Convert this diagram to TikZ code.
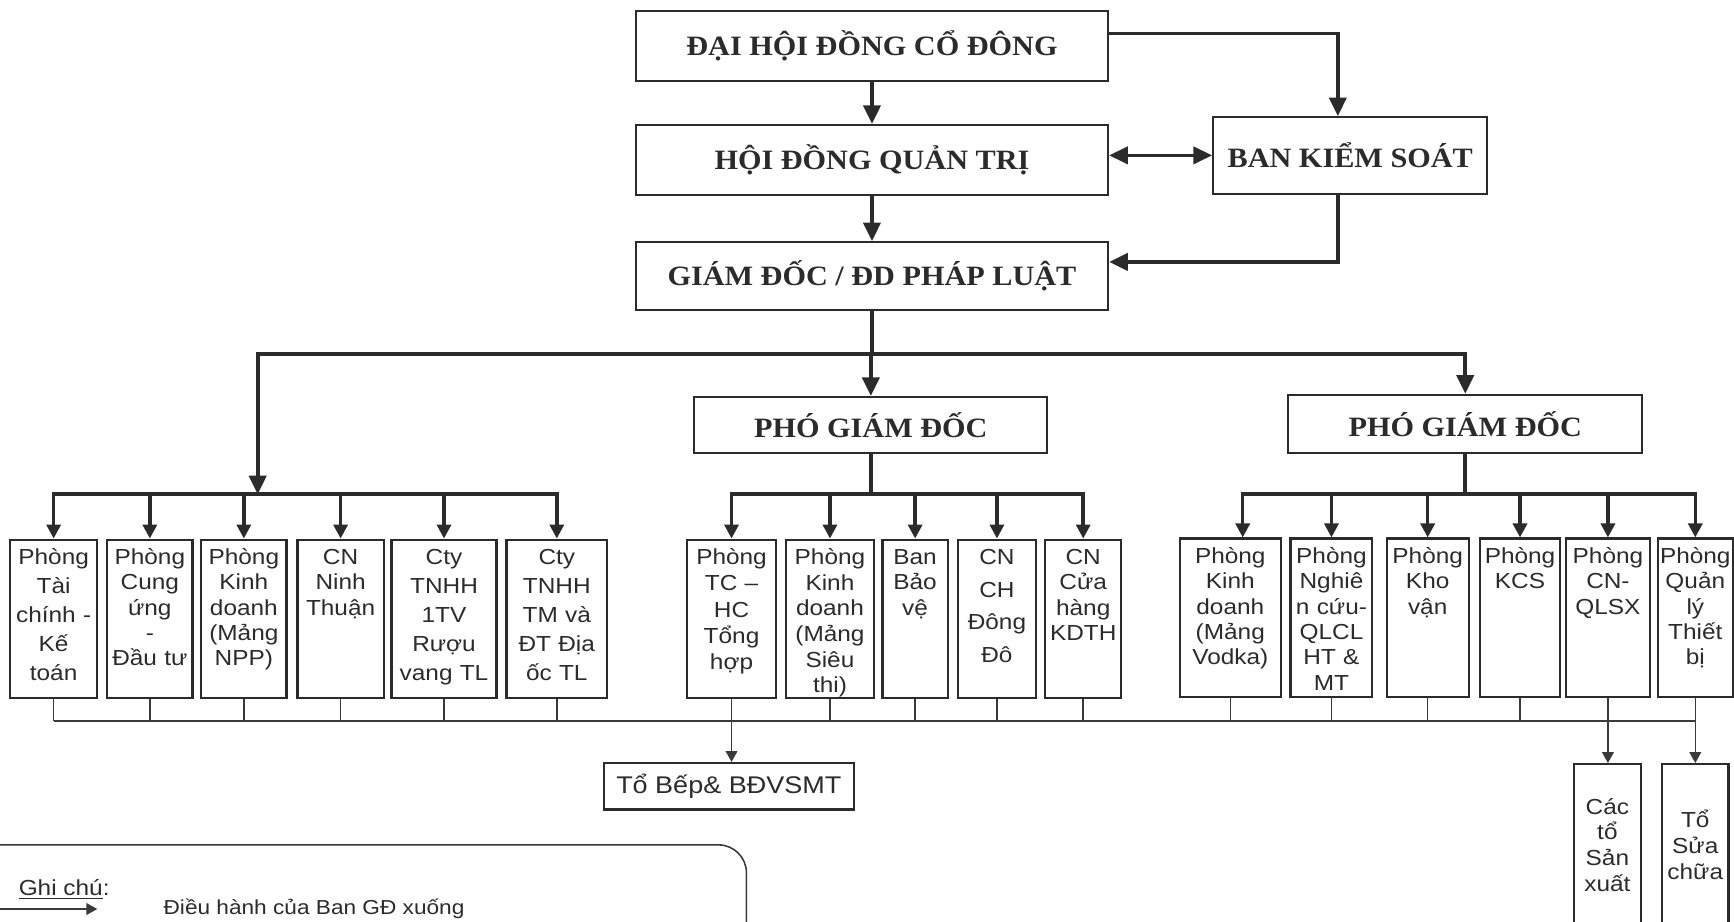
\documentclass[tikz,border=0pt]{standalone}
\usepackage{fontspec}
\setmainfont{Liberation Sans}
\newfontfamily\headfont[FakeStretch=1.08]{Liberation Serif}
\newfontfamily\boxfont[FakeStretch=1.12]{Liberation Sans}
\usepackage{xcolor}
\usetikzlibrary{arrows.meta,positioning,calc}
\definecolor{InkDark}{HTML}{2B2B2B}
\definecolor{LineGray}{HTML}{3A3A3A}

\begin{document}
\begin{tikzpicture}[x=0.025cm,y=-0.025cm,
  headbox/.style={draw=InkDark,line width=1.3pt,inner sep=0pt,text=InkDark,font=\headfont\bfseries\fontsize{18}{20}\selectfont},
  dept/.style={draw=InkDark,line width=1.4pt,anchor=north,align=center,inner xsep=0pt,inner ysep=3pt,text height=13pt,text depth=83pt,text=InkDark,font=\boxfont\fontsize{14}{#1}\selectfont},
  dept/.default=16.3pt,
  team/.style={draw=InkDark,line width=1.4pt,align=center,inner sep=0pt,text=InkDark,font=\boxfont\fontsize{14}{16.5}\selectfont},
  mainline/.style={draw=InkDark,line width=2.4pt,line cap=rect},
  mainarrow/.style={mainline,-{Triangle[length=12pt,width=11pt]}},
  bothway/.style={mainline,{Triangle[length=12pt,width=11pt]}-{Triangle[length=12pt,width=11pt]}},
  subarrow/.style={draw=InkDark,line width=2.2pt,-{Triangle[length=9pt,width=9pt]}},
  thinline/.style={draw=LineGray,line width=1pt},
  thinarrow/.style={thinline,-{Triangle[length=7pt,width=7.5pt]}}]
  \useasboundingbox (0,0) rectangle (1568,833);

  % top of the chart
  \node[headbox,minimum width=10.675cm,minimum height=1.575cm] (dhcd) at (788.5,41.5) {ĐẠI HỘI ĐỒNG CỔ ĐÔNG};
  \node[headbox,minimum width=10.675cm,minimum height=1.575cm] (hdqt) at (788.5,144.5) {HỘI ĐỒNG QUẢN TRỊ};
  \node[headbox,minimum width=6.2cm,minimum height=1.725cm] (bks) at (1221,140.5) {BAN KIỂM SOÁT};
  \node[headbox,minimum width=10.675cm,minimum height=1.525cm] (gd) at (788.5,249.5) {GIÁM ĐỐC / ĐD PHÁP LUẬT};
  \node[headbox,minimum width=7.975cm,minimum height=1.275cm] (pgd1) at (787.5,384.5) {PHÓ GIÁM ĐỐC};
  \node[headbox,minimum width=8cm,minimum height=1.325cm] (pgd2) at (1325,383.5) {PHÓ GIÁM ĐỐC};

  \draw[mainarrow] (dhcd) -- (hdqt);
  \draw[mainarrow] (hdqt) -- (gd);
  \draw[mainarrow] ([yshift=8pt]dhcd.east) -| ([xshift=-8pt]bks.north);
  \draw[bothway] (hdqt.east |- bks.west) -- (bks.west);
  \draw[mainarrow] ([xshift=-8pt]bks.south) |- ([yshift=9pt]gd.east);

  \coordinate (hub) at (788.5,320);
  \coordinate (busL) at (233,447);
  \coordinate (busC) at (787.5,447);
  \coordinate (busR) at (1325,447);
  \coordinate (busLow) at (0,652);

  \draw[mainline] (gd) -- (hub);
  \draw[mainarrow] (hub) -| (busL);
  \draw[mainarrow] (hub) -| (pgd2.north);
  \draw[mainarrow] (pgd1.north |- hub) -- (pgd1.north);
  \draw[mainline] (pgd1) -- (busC);
  \draw[mainline] (pgd2) -- (busR);

  % departments
  \node[dept=18.7pt,text width=1.975cm] (b1) at (48.5,487) {Phòng\\Tài\\chính -\\Kế\\toán};
  \node[dept,text width=1.925cm] (b2) at (135.5,487) {Phòng\\Cung\\ứng\\-\\Đầu tư};
  \node[dept,text width=1.925cm] (b3) at (220.5,487) {Phòng\\Kinh\\doanh\\(Mảng\\NPP)};
  \node[dept,text width=1.95cm] (b4) at (308,487) {CN\\Ninh\\Thuận};
  \node[dept=18.7pt,text width=2.375cm] (b5) at (401.5,487) {Cty\\TNHH\\1TV\\Rượu\\vang TL};
  \node[dept=18.7pt,text width=2.275cm] (b6) at (503.5,487) {Cty\\TNHH\\TM và\\ĐT Địa\\ốc TL};
  \node[dept=16.9pt,text width=2.025cm] (b7) at (661.5,487) {Phòng\\TC –\\HC\\Tổng\\hợp};
  \node[dept=16.5pt,text width=1.975cm] (b8) at (750.5,487) {Phòng\\Kinh\\doanh\\(Mảng\\Siêu\\thi)};
  \node[dept,text width=1.475cm] (b9) at (827.5,487) {Ban\\Bảo\\vệ};
  \node[dept=21pt,text width=1.775cm] (b10) at (901.5,487) {CN\\CH\\Đông\\Đô};
  \node[dept,text width=1.725cm] (b11) at (979.5,487) {CN\\Cửa\\hàng\\KDTH};
  \node[dept,text width=2.275cm] (b12) at (1112.5,486) {Phòng\\Kinh\\doanh\\(Mảng\\Vodka)};
  \node[dept,text width=1.85cm] (b13) at (1204,486) {Phòng\\Nghiê\\n cứu-\\QLCL\\HT \&\\MT};
  \node[dept,text width=1.85cm] (b14) at (1291,486) {Phòng\\Kho\\vận};
  \node[dept,text width=1.825cm] (b15) at (1374.5,486) {Phòng\\KCS};
  \node[dept,text width=1.9cm] (b16) at (1454,486) {Phòng\\CN-\\QLSX};
  \node[dept,text width=1.7cm] (b17) at (1533,486) {Phòng\\Quản\\lý\\Thiết\\bị};

  \draw[mainline] (b1.north |- busL) -- (b6.north |- busL);
  \draw[mainline] (b7.north |- busC) -- (b11.north |- busC);
  \draw[mainline] ([xshift=8pt]b12.north |- busR) -- (b17.north |- busR);
  \draw[subarrow] (b1.north |- busL) -- (b1.north);
  \draw[subarrow] (b2.north |- busL) -- (b2.north);
  \draw[subarrow] (b3.north |- busL) -- (b3.north);
  \draw[subarrow] (b4.north |- busL) -- (b4.north);
  \draw[subarrow] (b5.north |- busL) -- (b5.north);
  \draw[subarrow] (b6.north |- busL) -- (b6.north);
  \draw[subarrow] (b7.north |- busC) -- (b7.north);
  \draw[subarrow] (b8.north |- busC) -- (b8.north);
  \draw[subarrow] (b9.north |- busC) -- (b9.north);
  \draw[subarrow] (b10.north |- busC) -- (b10.north);
  \draw[subarrow] (b11.north |- busC) -- (b11.north);
  \draw[subarrow] ([xshift=8pt]b12.north |- busR) -- ([xshift=8pt]b12.north);
  \draw[subarrow] (b13.north |- busR) -- (b13.north);
  \draw[subarrow] (b14.north |- busR) -- (b14.north);
  \draw[subarrow] (b15.north |- busR) -- (b15.north);
  \draw[subarrow] (b16.north |- busR) -- (b16.north);
  \draw[subarrow] (b17.north |- busR) -- (b17.north);

  % teams under the departments
  \node[team,minimum width=5.65cm,minimum height=1.05cm,font=\boxfont\fontsize{15.5}{17}\selectfont] (tobep) at (659,711) {Tổ Bếp\& BĐVSMT};
  \node[team,minimum width=1.525cm,minimum height=3.65cm] (tosx) at (1453.5,764) {Các\\tổ\\Sản\\xuất};
  \node[team,minimum width=1.5cm,minimum height=3.65cm] (tosc) at (1533,764) {Tổ\\Sửa\\chữa};

  \draw[thinline] (b1.south |- busLow) -- (b17.south |- busLow);
  \draw[thinline] (b1.south) -- (b1.south |- busLow);
  \draw[thinline] (b2.south) -- (b2.south |- busLow);
  \draw[thinline] (b3.south) -- (b3.south |- busLow);
  \draw[thinline] (b4.south) -- (b4.south |- busLow);
  \draw[thinline] (b5.south) -- (b5.south |- busLow);
  \draw[thinline] (b6.south) -- (b6.south |- busLow);
  \draw[thinline] (b8.south) -- (b8.south |- busLow);
  \draw[thinline] (b9.south) -- (b9.south |- busLow);
  \draw[thinline] (b10.south) -- (b10.south |- busLow);
  \draw[thinline] (b11.south) -- (b11.south |- busLow);
  \draw[thinline] (b12.south) -- (b12.south |- busLow);
  \draw[thinline] (b13.south) -- (b13.south |- busLow);
  \draw[thinline] (b14.south) -- (b14.south |- busLow);
  \draw[thinline] (b15.south) -- (b15.south |- busLow);
  \draw[thinarrow] (b7.south) -- (b7.south |- tobep.north);
  \draw[thinarrow] (b16.south) -- (b16.south |- tosx.north);
  \draw[thinarrow] (b17.south) -- (b17.south |- tosc.north);

  % legend
  \draw[thinline,rounded corners=18pt] (-10,764) -- (675,764) -- (675,860);
  \node[anchor=west,text=InkDark,font=\boxfont\fontsize{14}{16}\selectfont] (note) at (12,804) {\underline{Ghi chú}:};
  \coordinate (keyA) at (0,822);
  \coordinate (keyB) at (88,822);
  \draw[thinarrow] (keyA) -- (keyB);
  \node[anchor=base west,text=InkDark,font=\boxfont\fontsize{13}{15}\selectfont] (keytext) at (143,827) {Điều hành của Ban GĐ xuống};
\end{tikzpicture}
\end{document}
